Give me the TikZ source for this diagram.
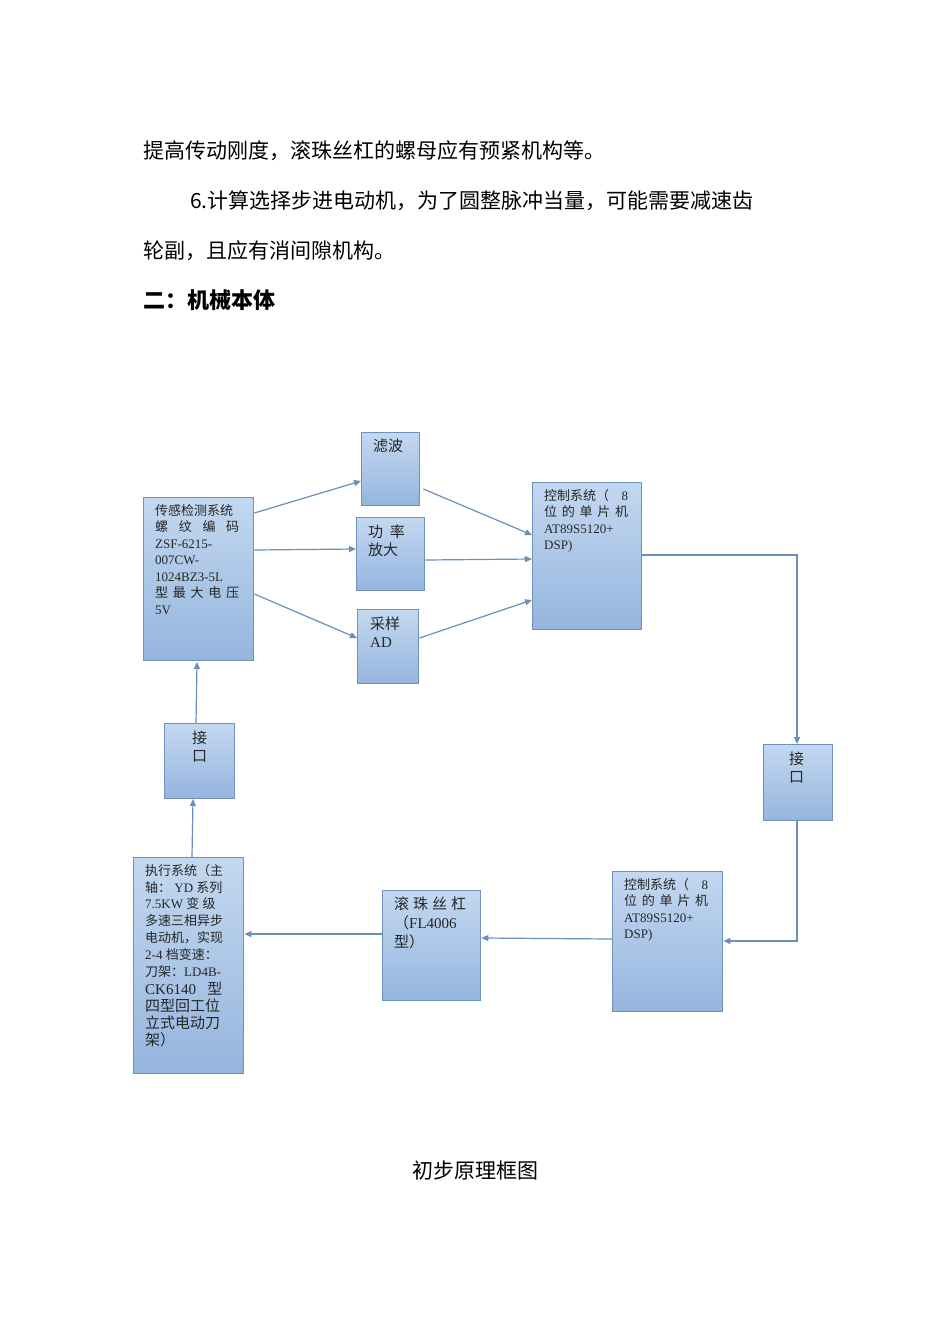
\documentclass[tikz,border=0pt]{standalone}
\usepackage{fontspec}
\setmainfont{Liberation Serif}
\newfontfamily\cjk{Noto Sans CJK SC}
\usetikzlibrary{arrows.meta}
\definecolor{bord}{HTML}{6F92BD}
\definecolor{ctop}{HTML}{C3D8F0}
\definecolor{cbot}{HTML}{95B5DE}
\definecolor{arr}{HTML}{6A8FBA}
\tikzset{
 bx/.style={draw=bord,line width=1.4pt,top color=ctop,bottom color=cbot,anchor=north west,inner sep=0pt},
 tx/.style={anchor=north west,inner sep=0pt,align=left,font=\fontsize{13}{16.5}\selectfont,text=black!85},
 ar/.style={draw=arr,line width=1.2pt,-{Triangle[length=7pt,width=6pt]}},
 para/.style={anchor=base west,inner sep=0pt,font=\cjk\fontsize{21}{25}\selectfont}
}
\newcommand{\C}[1]{{\cjk #1}}
\begin{document}
\begin{tikzpicture}[x=1pt,y=1pt]
\useasboundingbox[fill=white] (0,0) rectangle (950,-1344);
\node[para] (p1) at (143,-158) {提高传动刚度，滚珠丝杠的螺母应有预紧机构等。};
\node[para] (p2) at (190,-208) {6.计算选择步进电动机，为了圆整脉冲当量，可能需要减速齿};
\node[para] (p3) at (143,-258) {轮副，且应有消间隙机构。};
\node[para,font=\cjk\bfseries\fontsize{22}{25}\selectfont] (p4) at (143,-308) {二：机械本体};
\node[para,anchor=base] (cap) at (475,-1178) {初步原理框图};

\node[bx,minimum width=58pt,minimum height=73pt] (lb) at (361,-432) {};
\node[bx,minimum width=110pt,minimum height=163pt] (cg) at (143,-497) {};
\node[bx,minimum width=68pt,minimum height=73pt] (gl) at (356,-517) {};
\node[bx,minimum width=61pt,minimum height=74pt] (cy) at (357,-609) {};
\node[bx,minimum width=109pt,minimum height=147pt] (k1) at (532,-482) {};
\node[bx,minimum width=69pt,minimum height=76pt] (jr) at (763,-744) {};
\node[bx,minimum width=110pt,minimum height=140pt] (k2) at (612,-871) {};
\node[bx,minimum width=98pt,minimum height=110pt] (gz) at (382,-890) {};
\node[bx,minimum width=110pt,minimum height=216pt] (zx) at (133,-857) {};
\node[bx,minimum width=70pt,minimum height=75pt] (jl) at (164,-723) {};

\node[tx,font=\cjk\fontsize{15}{18}\selectfont] (tlb) at (373,-439) {滤波};
\node[tx] (tcg) at (155,-504) {\C{传感检测系统}\\\makebox[84pt][s]{\C{螺} \C{纹} \C{编} \C{码}}\\ZSF-6215-\\007CW-\\1024BZ3-5L\\\makebox[84pt][s]{\C{型} \C{最} \C{大} \C{电} \C{压}}\\5V};
\node[tx,font=\cjk\fontsize{15}{18}\selectfont] (tgl) at (368,-525) {功\ \ 率\\放大};
\node[tx,font=\fontsize{15}{18}\selectfont] (tcy) at (370,-617) {\C{采样}\\AD};
\node[tx] (tk1) at (544,-489) {\makebox[84pt][s]{\C{控制系统（} 8}\\\makebox[84pt][s]{\C{位} \C{的} \C{单} \C{片} \C{机}}\\AT89S5120+\\DSP)};
\node[tx,font=\cjk\fontsize{15}{18}\selectfont] (tjr) at (789,-752) {接\\口};
\node[tx] (tk2) at (624,-878) {\makebox[84pt][s]{\C{控制系统（} 8}\\\makebox[84pt][s]{\C{位} \C{的} \C{单} \C{片} \C{机}}\\AT89S5120+\\DSP)};
\node[tx,font=\fontsize{15}{19}\selectfont] (tgz) at (394,-897) {\makebox[72pt][s]{\C{滚} \C{珠} \C{丝} \C{杠}}\\\C{（}FL4006\\\C{型）}};
\node[tx,font=\fontsize{13}{16.8}\selectfont] (tzx) at (145,-864) {\C{执行系统（主}\\\C{轴：} YD \C{系列}\\7.5KW \C{变} \C{级}\\\C{多速三相异步}\\\C{电动机，实现}\\2-4 \C{档变速：}\\\C{刀架：}LD4B-\\[2pt]{\fontsize{15}{19}\selectfont CK6140\ \ \ \C{型}}\\{\fontsize{15}{19}\selectfont\C{四型回工位}}\\{\fontsize{15}{19}\selectfont\C{立式电动刀}}\\{\fontsize{15}{19}\selectfont\C{架）}}};
\node[tx,font=\cjk\fontsize{15}{18}\selectfont] (tjl) at (192,-731) {接\\口};

\draw[ar] (cg.north east)++(0,-16) -- (lb.west|-0,-481);
\draw[ar] (cg.east|-0,-550) -- (gl.west|-0,-549);
\draw[ar] (cg.east|-0,-594) -- (cy.west|-0,-638);
\draw[ar] (lb.east|-0,-489) ++(3,0) -- (k1.west|-0,-535);
\draw[ar] (gl.east|-0,-560) -- (k1.west|-0,-559);
\draw[ar] (cy.east|-0,-638) -- (k1.west|-0,-600);
\draw[ar] (k1.east|-0,-555) -- (797,-555) -- (jr.north-|797,0);
\draw[ar] (jr.south-|797,0) -- (797,-941) -- (k2.east|-0,-941);
\draw[ar] (k2.west|-0,-939) -- (gz.east|-0,-938);
\draw[ar] (gz.west|-0,-934) -- (zx.east|-0,-934);
\draw[ar] (zx.north-|192,0) -- (193,-799);
\draw[ar] (jl.north-|196,0) -- (197,-662);
\end{tikzpicture}
\end{document}
